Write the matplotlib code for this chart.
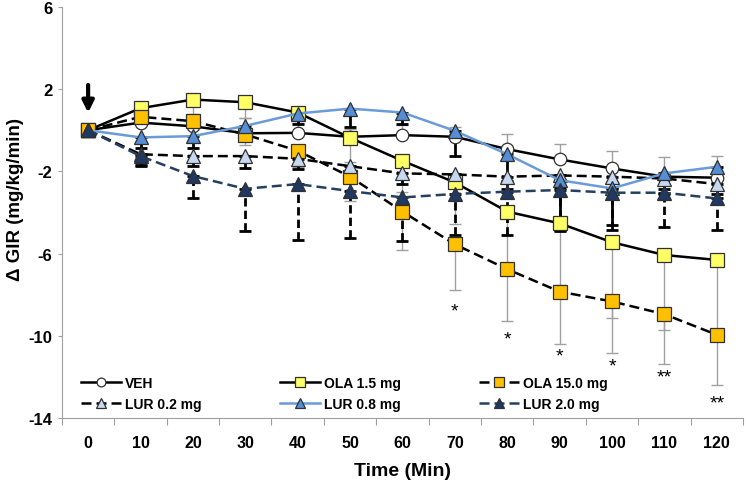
import numpy as np
import matplotlib
matplotlib.use("Agg")
import matplotlib.pyplot as plt

plt.rcParams["font.family"] = ["Liberation Sans", "DejaVu Sans"]

# data
times = [0, 10, 20, 30, 40, 50, 60, 70, 80, 90, 100, 110, 120]
veh = [0, 0.37, 0.19, -0.15, -0.13, -0.32, -0.24, -0.32, -0.92, -1.42, -1.86, -2.26, -2.31]
ola_low = [0, 1.07, 1.49, 1.36, 0.86, -0.37, -1.49, -2.54, -3.96, -4.53, -5.45, -6.07, -6.31]
ola_high = [0, 0.65, 0.44, -0.21, -1.0, -2.26, -3.96, -5.55, -6.76, -7.85, -8.33, -8.95, -9.95]
lur_low = [0, -1.17, -1.26, -1.26, -1.39, -1.75, -2.1, -2.15, -2.26, -2.2, -2.26, -2.35, -2.62]
lur_mid = [0, -0.35, -0.29, 0.21, 0.81, 1.05, 0.86, -0.03, -1.17, -2.43, -2.83, -2.1, -1.78]
lur_high = [0, -1.26, -2.23, -2.85, -2.62, -2.96, -3.27, -3.1, -2.99, -2.91, -3.04, -3.04, -3.32]

# one-sided error bars
veh_up = [0, 0.3, 0.3, 0.75, 1.2, 0.4, 0.5, 0.48, 0.72, 0.77, 0.84, 0.96, 1.05]
ola_low_dn = [0, 0.3, 0.7, 0.76, 0.5, 1.2, 1.5, 2.0, 2.5, 3.0, 3.68, 3.63, 3.6]
ola_high_dn = [0, 0.3, 0.4, 0.5, 0.8, 1.2, 1.85, 2.22, 2.5, 2.55, 2.5, 2.41, 2.43]
lur_low_dn = [0, 0.5, 0.5, 0.6, 0.5, 0.6, 0.5, 0.6, 0.6, 0.6, 0.6, 0.5, 0.5]
lur_mid_dn = [0, 0.5, 0.6, 0.5, 0.5, 0.9, 0.54, 1.23, 1.3, 2.4, 1.8, 1.0, 0.5]
lur_high_dn = [0, 0.47, 1.05, 2.05, 2.7, 2.26, 2.1, 2.0, 2.1, 2.0, 1.8, 1.65, 1.53]

# significance marks
star_idx = [7, 8, 9, 10, 11, 12]
star_y = [-8.8, -10.15, -11.0, -11.45, -11.98, -13.25]
star_txt = ["*", "*", "*", "*", "**", "**"]

x = np.arange(len(times))
zeros = np.zeros(len(times))

fig = plt.figure(figsize=(7.46, 4.89), dpi=100)
ax = fig.add_axes([0.083, 0.143, 0.913, 0.841])

GRAY = "#a0a0a0"


def err(y, lo, hi, color, lw, ls="-"):
    eb = ax.errorbar(x, y, yerr=[lo, hi], fmt="none", ecolor=color,
                     elinewidth=lw, capsize=4, capthick=lw, zorder=2)
    if ls != "-":
        for c in eb[2]:
            c.set_linestyle(ls)


err(veh, zeros, veh_up, GRAY, 1.0)
err(ola_low, ola_low_dn, zeros, GRAY, 1.0)
err(ola_high, ola_high_dn, zeros, GRAY, 1.0)
err(lur_low, lur_low_dn, zeros, "black", 2.0, (0, (3, 1.5)))
err(lur_mid, lur_mid_dn, zeros, "black", 2.0)
err(lur_high, lur_high_dn, zeros, "black", 2.0, (0, (3, 1.5)))

dash = (0, (4, 2))
series = [
    (veh, "VEH", "black", "-", "o", "white", 9),
    (ola_low, "OLA 1.5 mg", "black", "-", "s", "#ffff66", 10),
    (ola_high, "OLA 15.0 mg", "black", dash, "s", "#ffc000", 10),
    (lur_low, "LUR 0.2 mg", "black", dash, "^", "#c6d9f1", 9.5),
    (lur_mid, "LUR 0.8 mg", "#6a9bd8", "-", "^", "#558ed5", 9.5),
    (lur_high, "LUR 2.0 mg", "#243f60", dash, "^", "#1f3864", 9.5),
]
handles = []
for y, lab, lc, ls, mk, fc, ms in series:
    h, = ax.plot(x, y, color=lc, linestyle=ls, linewidth=1.8, marker=mk,
                 markersize=ms, markerfacecolor=fc, markeredgecolor="#303030",
                 markeredgewidth=0.9, label=lab, zorder=3)
    handles.append(h)

for i, yy, t in zip(star_idx, star_y, star_txt):
    ax.text(x[i], yy, t, ha="center", va="center", fontsize=14, zorder=4)

ax.annotate("", xy=(0, 0.85), xytext=(0, 2.2),
            arrowprops=dict(arrowstyle="-|>", color="black", lw=3,
                            mutation_scale=17, shrinkA=0, shrinkB=0))

ax.set_xlim(-0.5, len(times) - 0.5)
ax.set_ylim(-14, 6)
ax.set_yticks([-14, -10, -6, -2, 2, 6])
ax.set_yticklabels(["-14", "-10", "-6", "-2", "2", "6"],
                   fontsize=12, fontweight="bold")
ax.set_xticks(np.arange(-0.5, len(times), 1.0))
ax.set_xticklabels([])
ax.set_xticks(x, minor=True)
ax.set_xticklabels([str(t) for t in times], minor=True,
                   fontsize=11.5, fontweight="bold")
ax.tick_params(axis="x", which="major", length=5, color=GRAY)
ax.tick_params(axis="x", which="minor", length=0, pad=12)
ax.tick_params(axis="y", length=3, color=GRAY, pad=4)

for s in ["top", "right"]:
    ax.spines[s].set_visible(False)
for s in ["left", "bottom"]:
    ax.spines[s].set_color(GRAY)

ax.set_xlabel("Time (Min)", fontsize=14, fontweight="bold", labelpad=9)
ax.set_ylabel("Δ GIR (mg/kg/min)", fontsize=13.5, fontweight="bold")
ax.yaxis.set_label_coords(-0.056, 0.535)

# legend filled column-wise, so reorder to read row-wise like the original
order = [0, 3, 1, 4, 2, 5]
ax.legend([handles[i] for i in order], [series[i][1] for i in order],
          loc="upper left", bbox_to_anchor=(0.099, 0.243),
          bbox_transform=fig.transFigure, ncol=3, frameon=False,
          prop={"size": 10, "weight": "bold"}, handlelength=2.9,
          handletextpad=0.3, columnspacing=5.6, labelspacing=0.5,
          borderpad=0, markerscale=0.7)

fig.savefig("out.png", dpi=100)
